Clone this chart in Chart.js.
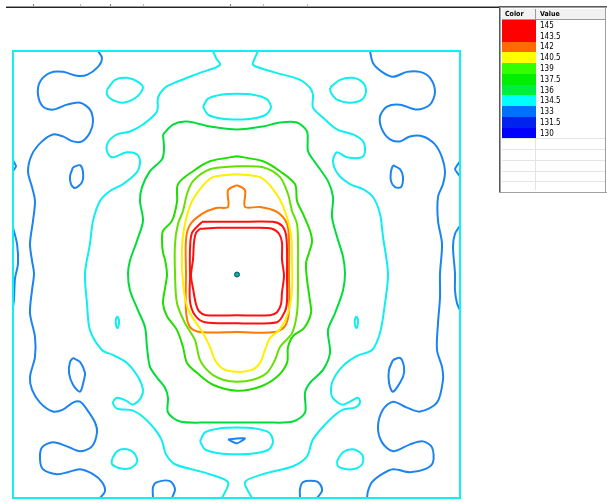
<!DOCTYPE html>
<html>
<head>
<meta charset="utf-8">
<script src="https://cdn.jsdelivr.net/npm/chart.js@4.4.1/dist/chart.umd.min.js"></script>
<style>
  html, body { margin: 0; padding: 0; background: #fff; }
  #wrap { width: 607px; height: 503px; position: relative; }
</style>
</head>
<body>
<div id="wrap"><canvas id="plot"></canvas></div>
<script>
// Contour levels shown in the table, top to bottom
var levels = [145, 143.5, 142, 140.5, 139, 137.5, 136, 134.5, 133, 131.5, 130];
var swatchColors = ['#ff0000', '#ff0000', '#ff6a00', '#ffff00', '#33ff00', '#00ee00', '#00ee3c', '#00ffff', '#0070ff', '#0022ee', '#0000ff'];
var lineColors = ['#ff1010', '#ff1010', '#ff7800', '#ffee00', '#66e000', '#22dd00', '#00dd3a', '#10eef0', '#1c84f0', '#0030f0', '#0000ff'];

// Field extent (x to the right, y downwards)
var fieldW = 447;
var fieldH = 450;

// Contour paths, flat x,y pairs in field units
var line145 = [187,179, 205,178, 224,178, 243,178, 259,179, 266,184, 269,193, 269,210, 271,226, 269,243, 268,255, 264,263, 257,266, 224,266, 193,266, 186,262, 183,255, 180,239, 178,226, 180,210, 181,193, 183,183];
var line143_5 = [189,172, 224,172, 260,172, 269,176, 273,185, 274,200, 274,226, 274,252, 272,262, 264,273, 224,274, 192,273, 182,266, 177,252, 177,226, 177,200, 179,183];
var line142 = [224,135, 232,140, 232,157, 247,157, 264,162, 274,174, 276,190, 276,225, 276,262, 272,277, 262,283, 224,283, 187,283, 177,278, 173,262, 173,225, 173,190, 177,175, 189,164, 203,158, 215,157, 215,140];
var line140_5 = [224,124, 247,127, 260,139, 270,156, 278,184, 279,210, 279,240, 275,264, 267,280, 257,289, 252,301, 247,314, 239,321, 224,323, 210,320, 202,311, 197,298, 190,284, 177,264, 172,249, 169,219, 170,186, 177,156, 187,139, 200,127];
var line139 = [224,116, 250,117, 267,127, 275,144, 279,161, 284,174, 285,194, 285,224, 285,239, 284,264, 279,284, 267,298, 262,311, 254,324, 240,331, 224,333, 210,331, 197,324, 187,311, 182,291, 172,274, 164,254, 162,224, 162,194, 165,174, 170,161, 174,144, 180,131, 197,119];
var line137_5 = [224,106, 250,111, 267,121, 282,134, 284,151, 290,164, 297,181, 299,192, 296,203, 293,214, 294,230, 297,252, 298,264, 291,279, 280,287, 275,298, 274,314, 264,328, 247,338, 224,342, 200,336, 184,324, 174,314, 170,298, 164,281, 154,267, 150,254, 152,239, 154,225, 152,210, 150,203, 149,191, 150,181, 159,171, 164,152, 165,134, 180,121, 197,111];
var line136 = [150,84, 160,74, 174,71, 197,76, 224,79, 250,76, 267,72, 284,72, 294,81, 295,101, 302,112, 315,131, 320,147, 319,167, 324,187, 330,207, 332,224, 330,241, 322,264, 315,281, 317,304, 310,321, 297,334, 292,344, 292,364, 280,373, 254,374, 224,374, 197,374, 167,373, 155,364, 155,349, 152,339, 145,330, 137,318, 134,298, 132,278, 125,261, 117,241, 115,224, 117,211, 124,191, 130,171, 127,151, 129,137, 137,121, 149,109, 151,99];

var cyanTopOval = [190,56, 195,48, 208,44, 224,43, 240,44, 253,48, 258,56, 253,64, 240,68, 224,69, 208,68, 195,64];
var cyanBottomOval = [187,393, 192,384, 206,380, 224,379, 242,380, 256,384, 260,393, 256,401, 242,405, 224,406, 206,405, 192,401];
var cyanWest = [200,0, 203,7, 207,14, 187,22, 164,31, 152,37, 145,47, 144,61, 130,74, 117,81, 104,84, 95,92, 94,101, 99,107, 114,102, 124,104, 127,111, 124,122, 110,134, 97,141, 87,151, 80,171, 77,194, 72,224, 74,254, 77,281, 89,301, 100,306, 114,314, 125,328, 130,341, 128,349, 120,356, 113,352, 104,349, 100,354, 104,360, 120,362, 134,372, 148,390, 153,406, 162,416, 190,424, 215,434, 209,450];
var cyanEast = [245,0, 242,7, 240,14, 260,21, 287,29, 297,37, 300,44, 300,57, 310,67, 324,79, 340,84, 350,91, 352,101, 349,107, 334,107, 324,102, 320,111, 325,124, 337,134, 350,139, 360,147, 367,164, 370,187, 375,224, 372,254, 367,284, 359,301, 344,307, 329,318, 319,334, 319,348, 329,356, 337,353, 345,349, 347,354, 342,359, 330,361, 317,371, 300,391, 294,408, 280,418, 250,426, 232,434, 239,450];
var cyanNW = [94,39, 102,29, 114,27, 125,31, 130,37, 124,46, 110,52, 99,49, 94,44];
var cyanNE = [317,37, 327,29, 340,27, 350,32, 353,41, 349,49, 337,52, 324,49, 318,42];
var cyanSW = [99,411, 104,403, 114,401, 122,406, 124,414, 117,420, 107,420, 99,416];
var cyanSE = [324,413, 330,404, 340,401, 349,406, 350,414, 344,420, 334,421, 325,418];
var cyanDotW = [104.5,267, 106,271, 105.5,277, 104.5,279, 103,276, 103,270];
var cyanDotE = [343.5,267, 345,271, 344.5,277, 343.5,279, 342,276, 342,270];

var blueWest = [85,0, 89,7, 85,16, 74,24, 64,25, 50,21, 37,22, 27,31, 25,44, 30,56, 40,59, 54,54, 67,52, 77,59, 80,71, 77,82, 69,91, 60,91, 50,86, 40,84, 29,91, 19,104, 15,121, 19,137, 22,151, 20,171, 17,194, 19,211, 21,224, 19,241, 17,264, 22,288, 22,308, 17,328, 19,341, 27,354, 40,363, 50,361, 60,354, 67,353, 74,361, 82,374, 84,384, 79,398, 67,403, 54,398, 40,394, 29,399, 27,411, 30,421, 44,426, 55,424, 67,421, 80,426, 89,434, 92,443, 87,450];
var blueEast = [357,0, 360,12, 369,21, 380,26, 394,21, 407,21, 417,27, 422,41, 417,54, 404,59, 387,54, 374,56, 367,66, 369,79, 377,89, 387,91, 397,86, 410,86, 422,94, 429,107, 432,121, 430,134, 425,147, 425,171, 429,194, 427,224, 427,248, 425,274, 424,301, 429,318, 430,331, 424,354, 407,363, 394,359, 380,353, 370,361, 365,378, 369,394, 380,403, 397,396, 410,393, 419,399, 420,414, 412,421, 397,424, 380,421, 369,426, 359,434, 355,443, 354,450];
var blueEdgeW1 = [0,110, 3,116, 0,121];
var blueEdgeW2 = [0,178, 4,194, 5,214, 2,229, 1,250, 0,258];
var blueEdgeE1 = [447,111, 442,119, 447,126];
var blueEdgeE2 = [447,176, 442,184, 440,197, 442,224, 442,241, 444,254, 447,261];
var blueNW = [60,117, 67,115, 70,122, 69,132, 62,138, 58,134, 57,126];
var blueNE = [380,115, 387,119, 390,127, 388,137, 382,137, 378,131, 378,121];
var blueSW = [60,309, 67,313, 72,324, 71,331, 67,343, 60,336, 56,324, 57,313];
var blueSE = [380,311, 387,309, 391,318, 390,328, 380,343, 376,334, 376,321];
var blueFootW = [140,450, 140,439, 144,434, 157,433, 162,441, 159,450];
var blueFootE = [287,450, 287,441, 290,434, 302,433, 307,436, 309,443, 304,450];
var blueNotch = [215,391, 224,390, 232,390, 224,395];

// Peak location
var peak = [{ x: 224, y: 225 }];

// [level, path, closed]
var contours = [
    [134.5, cyanTopOval, true], [134.5, cyanBottomOval, true],
    [134.5, cyanWest, false], [134.5, cyanEast, false],
    [134.5, cyanNW, true], [134.5, cyanNE, true], [134.5, cyanSW, true], [134.5, cyanSE, true],
    [134.5, cyanDotW, true], [134.5, cyanDotE, true],
    [133, blueWest, false], [133, blueEast, false],
    [133, blueEdgeW1, false], [133, blueEdgeW2, false], [133, blueEdgeE1, false], [133, blueEdgeE2, false],
    [133, blueNW, true], [133, blueNE, true], [133, blueSW, true], [133, blueSE, true],
    [133, blueFootW, false], [133, blueFootE, false], [133, blueNotch, true],
    [136, line136, true], [137.5, line137_5, true], [139, line139, true],
    [140.5, line140_5, true], [142, line142, true], [143.5, line143_5, true], [145, line145, true]
];

function toPoints(flat, closed) {
    var out = [];
    for (var i = 0; i < flat.length; i += 2) {
        out.push({ x: flat[i], y: flat[i + 1] });
    }
    if (closed) out.push({ x: flat[0], y: flat[1] });
    return out;
}

var datasets = [];
contours.forEach(function (c) {
    var color = lineColors[levels.indexOf(c[0])];
    datasets.push({
        label: String(c[0]),
        data: toPoints(c[1], c[2]),
        showLine: true,
        borderColor: color,
        borderWidth: 2,
        pointRadius: 0,
        tension: c[1].length > 10 ? 0.3 : 0.15,
        fill: false,
        clip: 2,
    });
});
datasets.push({
    label: 'peak',
    data: peak,
    showLine: false,
    pointRadius: 2.5,
    pointBackgroundColor: '#0aa8a8',
    pointBorderColor: '#045a5a',
    pointBorderWidth: 1,
});

// Field boundary and the level table at the right
var mapDecor = {
    id: 'mapDecor',
    afterDatasetsDraw: function (chart) {
        var a = chart.chartArea;
        var ctx = chart.ctx;
        ctx.save();
        ctx.strokeStyle = '#10f0f0';
        ctx.lineWidth = 2;
        ctx.strokeRect(a.left, a.top, a.right - a.left, a.bottom - a.top);
        ctx.restore();
    },
    afterDraw: function (chart) {
        var ctx = chart.ctx;
        ctx.save();
        // toolbar rule
        ctx.fillStyle = '#9a9a9a';
        ctx.fillRect(6, 6, 494, 1);
        ctx.fillStyle = '#222';
        ctx.fillRect(6, 7, 494, 1);
        ctx.fillStyle = '#777';
        [33, 110, 230].forEach(function (x) { ctx.fillRect(x, 4, 1, 2); });
        ctx.fillStyle = '#bbb';
        [80, 143, 263, 307].forEach(function (x) { ctx.fillRect(x, 4, 1, 2); });

        // table panel
        var px = 499, py = 6, pw = 108, ph = 187;
        ctx.fillStyle = '#fff';
        ctx.fillRect(px, py, pw, ph);
        ctx.fillStyle = '#5a5a5a';
        ctx.fillRect(px, py, pw, 1);
        ctx.fillRect(px, py, 1, ph);
        ctx.fillStyle = '#a0a0a0';
        ctx.fillRect(px + 1, py + 1, pw - 1, 1);
        ctx.fillRect(px + 1, py + 1, 1, ph - 1);
        ctx.fillRect(px, py + ph - 1, pw, 1);
        ctx.fillRect(605, py + 1, 1, ph - 1);

        // header
        var colX = 536;
        ctx.fillStyle = '#f2f2f2';
        ctx.fillRect(502, 9, 103, 10);
        ctx.fillStyle = '#999';
        ctx.fillRect(502, 19, 103, 1);
        ctx.fillRect(colX - 1, 9, 1, 10);
        ctx.fillStyle = '#000';
        ctx.font = 'bold 7px "Liberation Sans Narrow", "DejaVu Sans Condensed", sans-serif';
        ctx.textBaseline = 'middle';
        ctx.fillText('Color', 505, 14.5);
        ctx.fillText('Value', 540, 14.5);

        // rows
        var rowTop = 20, rowH = 10.76;
        ctx.font = '8px "Liberation Sans Narrow", "DejaVu Sans Condensed", sans-serif';
        levels.forEach(function (v, i) {
            var y = rowTop + i * rowH;
            ctx.fillStyle = swatchColors[i];
            ctx.fillRect(502, Math.round(y), colX - 502, Math.round(y + rowH) - Math.round(y));
            ctx.fillStyle = '#000';
            ctx.fillText(String(v), 540, y + rowH / 2 + 0.5);
        });
        // empty rows below the last level
        ctx.fillStyle = '#e4e4e4';
        for (var k = levels.length; rowTop + k * rowH < 190; k++) {
            ctx.fillRect(502, Math.round(rowTop + k * rowH), 103, 1);
        }
        ctx.fillRect(colX - 1, Math.round(rowTop + levels.length * rowH), 1, 190 - Math.round(rowTop + levels.length * rowH));
        ctx.restore();
    }
};

new Chart(document.getElementById('plot'), {
    type: 'scatter',
    data: { datasets: datasets },
    options: {
        responsive: true,
        maintainAspectRatio: false,
        animation: false,
        layout: { padding: { left: 13, top: 51, right: 147, bottom: 2 } },
        scales: {
            x: { type: 'linear', min: 0, max: fieldW, display: false },
            y: { type: 'linear', min: 0, max: fieldH, reverse: true, display: false },
        },
        plugins: {
            legend: { display: false },
            tooltip: { enabled: false },
        },
    },
    plugins: [mapDecor],
});
</script>
</body>
</html>
